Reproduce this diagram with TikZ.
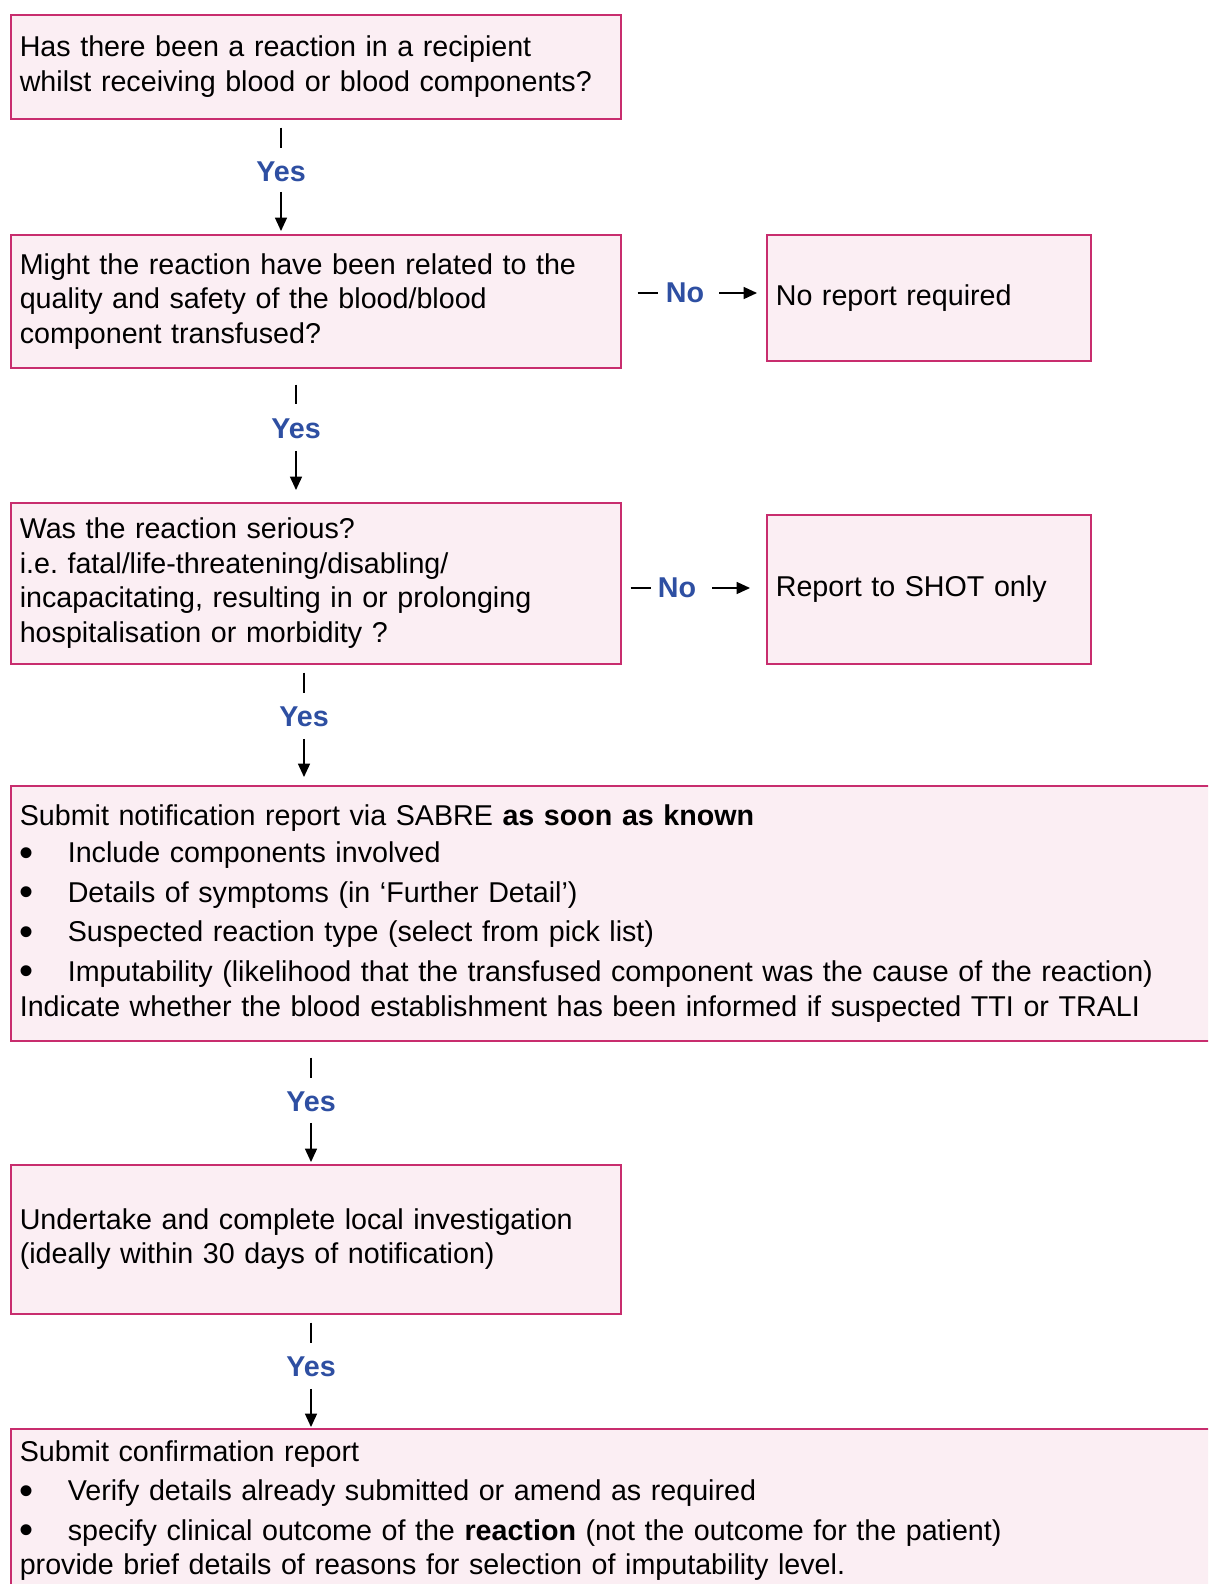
\documentclass[tikz,border=0pt]{standalone}
\usepackage{fontspec}
\setmainfont{Liberation Sans}
\usetikzlibrary{arrows.meta}

\definecolor{boxline}{RGB}{200,45,110}
\definecolor{boxfill}{RGB}{251,238,243}
\definecolor{answerblue}{RGB}{46,79,162}
\newcommand{\bul}{\makebox[36pt][l]{\raisebox{-2.6pt}{\scalebox{1.4}{\textbullet}}}}

\tikzset{
  flowbox/.style={draw=boxline, fill=boxfill, line width=1.2pt, anchor=north west,
    align=left, inner xsep=6.75pt, inner ysep=0pt,
    font=\fontsize{21.5}{25.9}\selectfont\frenchspacing},
  answer/.style={text=answerblue, font=\fontsize{21.5}{24}\selectfont\bfseries, inner sep=0pt},
  link/.style={line width=1pt},
  flowarrow/.style={link, -{Triangle[length=10pt,width=9pt]}},
}

\begin{document}
\begin{tikzpicture}[x=0.75pt, y=-0.75pt]
    \useasboundingbox (0,0) rectangle (1208,1584);
    \clip (0,0) rectangle (1208,1584);

    % questions down the left
    \node[flowbox, text width=444pt, minimum height=78pt] (q1) at (10,14)
        {Has there been a reaction in a recipient\\
         whilst receiving blood or blood components?};
    \node[flowbox, text width=444pt, minimum height=99.75pt] (q2) at (10,234)
        {Might the reaction have been related to the\\
         quality and safety of the blood/blood\\
         component transfused?};
    \node[flowbox, text width=444pt, minimum height=120.75pt] (q3) at (10,502)
        {Was the reaction serious?\\
         i.e. fatal/life-threatening/disabling/\\
         incapacitating, resulting in or prolonging\\
         hospitalisation or morbidity ?};
    \node[flowbox, text width=890pt, minimum height=191.25pt] (notify) at (10,785)
        {Submit notification report via SABRE \textbf{as soon as known}\\[2pt]
         \bul Include components involved\\[4pt]
         \bul Details of symptoms (in `Further Detail')\\[3.5pt]
         \bul Suspected reaction type (select from pick list)\\[4pt]
         \bul Imputability (likelihood that the transfused component was the cause of the reaction)\\
         Indicate whether the blood establishment has been informed if suspected TTI or TRALI};
    \node[flowbox, text width=444pt, minimum height=111.75pt] (local) at (10,1164)
        {Undertake and complete local investigation\\
         (ideally within 30 days of notification)};
    \node[flowbox, text width=890pt, minimum height=123pt] (confirm) at (10,1428)
        {Submit confirmation report\\[3.5pt]
         \bul Verify details already submitted or amend as required\\[3.5pt]
         \bul specify clinical outcome of the \textbf{reaction} (not the outcome for the patient)\\
         provide brief details of reasons for selection of imputability level.};

    % outcomes on the right
    \node[flowbox, text width=229.5pt, minimum height=94.5pt] (none) at (766,234)
        {No report required};
    \node[flowbox, text width=229.5pt, minimum height=111.75pt] (shot) at (766,514)
        {Report to SHOT only};

    % yes answers
    \node[answer] (y1) at (281,172) {Yes};
    \node[answer] (y2) at (296,429) {Yes};
    \node[answer] (y3) at (304,717) {Yes};
    \node[answer] (y4) at (311,1102) {Yes};
    \node[answer] (y5) at (311,1367) {Yes};

    \draw[link, shorten <=6pt, shorten >=10.25pt] (y1 |- q1.south) -- (y1.north);
    \draw[flowarrow, shorten <=7.25pt, shorten >=2.25pt] (y1.south) -- (y1 |- q2.north);
    \draw[link, shorten <=12pt, shorten >=11pt] (y2 |- q2.south) -- (y2.north);
    \draw[flowarrow, shorten <=8.75pt, shorten >=9pt] (y2.south) -- (y2 |- q3.north);
    \draw[link, shorten <=6pt, shorten >=10.25pt] (y3 |- q3.south) -- (y3.north);
    \draw[flowarrow, shorten <=8.75pt, shorten >=6pt] (y3.south) -- (y3 |- notify.north);
    \draw[link, shorten <=12pt, shorten >=10.25pt] (y4 |- notify.south) -- (y4.north);
    \draw[flowarrow, shorten <=8pt, shorten >=1.5pt] (y4.south) -- (y4 |- local.north);
    \draw[link, shorten <=6pt, shorten >=10.25pt] (y5 |- local.south) -- (y5.north);
    \draw[flowarrow, shorten <=8.75pt, shorten >=0.75pt] (y5.south) -- (y5 |- confirm.north);

    % no answers
    \node[answer] (n1) at (685,293) {No};
    \node[answer] (n2) at (677,588) {No};

    \draw[link, shorten <=12pt, shorten >=6pt] (q2.east |- n1) -- (n1.west);
    \draw[flowarrow, shorten <=11.25pt, shorten >=6.75pt] (n1.east) -- (n1 -| none.west);
    \draw[link, shorten <=6.75pt, shorten >=5.25pt] (q3.east |- n2) -- (n2.west);
    \draw[flowarrow, shorten <=12pt, shorten >=12pt] (n2.east) -- (n2 -| shot.west);
\end{tikzpicture}
\end{document}
